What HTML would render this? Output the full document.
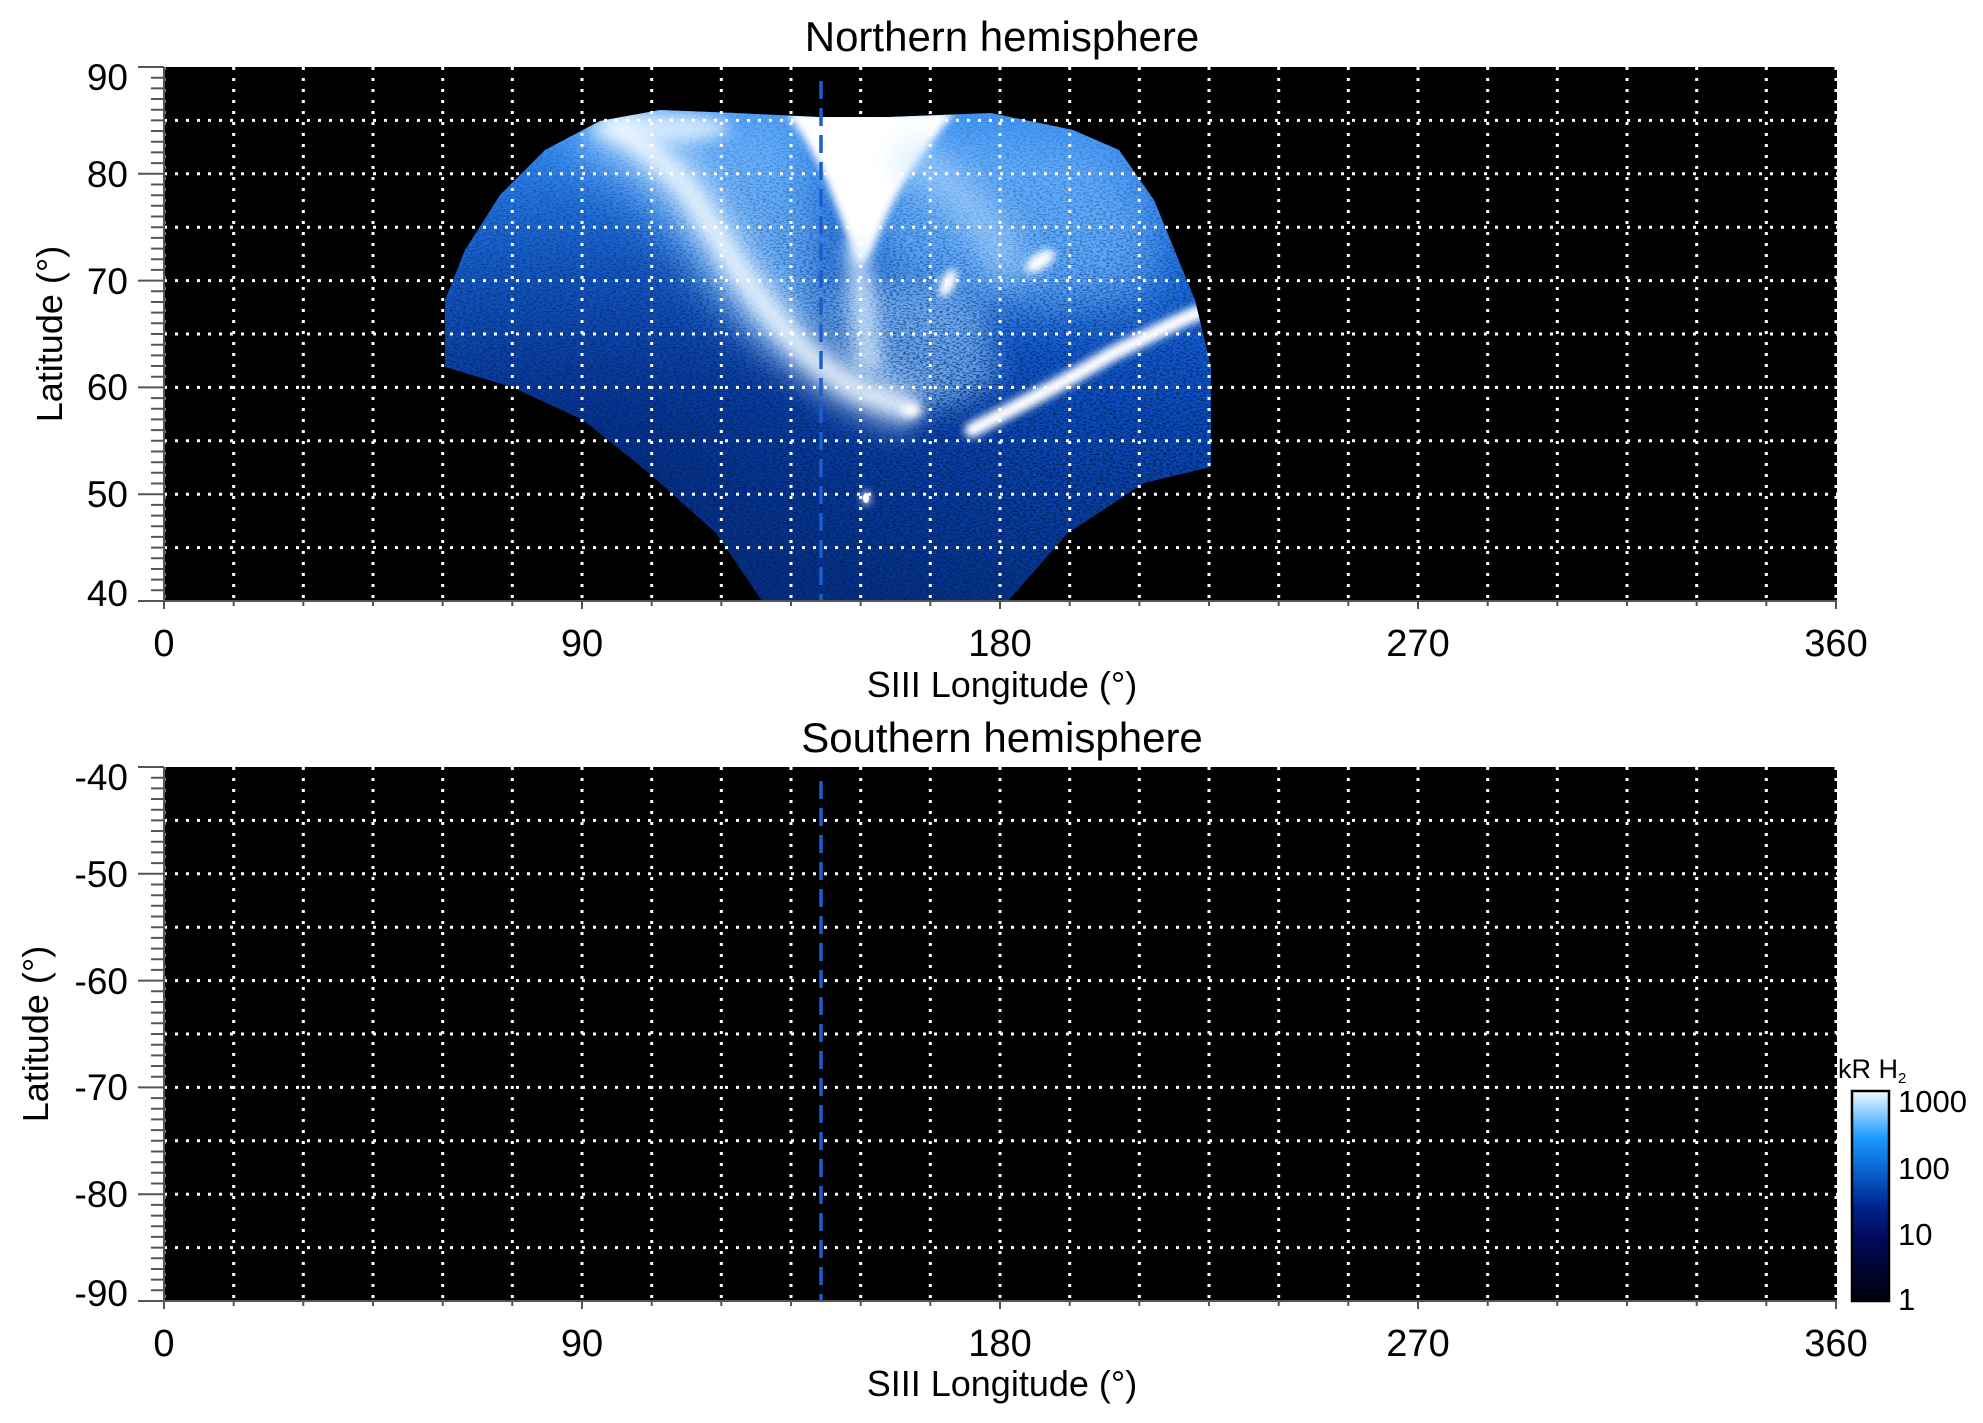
<!DOCTYPE html>
<html><head><meta charset="utf-8"><style>
html,body{margin:0;padding:0;background:#fff;}
svg{display:block;font-family:"Liberation Sans",sans-serif;}
</style></head><body>
<svg width="1983" height="1423" viewBox="0 0 1983 1423" xmlns="http://www.w3.org/2000/svg">
<defs>
<linearGradient id="base" x1="0" y1="0" x2="0" y2="1">
 <stop offset="0" stop-color="#3a92f6"/>
 <stop offset="0.3" stop-color="#1c6ee0"/>
 <stop offset="0.6" stop-color="#0c4cc0"/>
 <stop offset="1" stop-color="#06308a"/>
</linearGradient>
<radialGradient id="leftdark" cx="0.2" cy="0.7" r="0.6">
 <stop offset="0" stop-color="#031c6a" stop-opacity="0.6"/>
 <stop offset="1" stop-color="#031c6a" stop-opacity="0"/>
</radialGradient>
<linearGradient id="cb" x1="0" y1="1" x2="0" y2="0">
 <stop offset="0" stop-color="#000008"/>
 <stop offset="0.3" stop-color="#000a5a"/>
 <stop offset="0.45" stop-color="#00248f"/>
 <stop offset="0.65" stop-color="#0a6ed8"/>
 <stop offset="0.78" stop-color="#1a9cff"/>
 <stop offset="1" stop-color="#f4faff"/>
</linearGradient>
<filter id="noise" x="0" y="0" width="100%" height="100%">
 <feTurbulence type="fractalNoise" baseFrequency="0.3 0.7" numOctaves="2" seed="3"/>
 <feColorMatrix type="matrix" values="0 0 0 0 0  0 0 0 0 0.02  0 0 0 0 0.12  0 0 0 -5 2.7"/>
</filter>
<filter id="b4" filterUnits="userSpaceOnUse" x="400" y="80" width="900" height="560"><feGaussianBlur stdDeviation="4"/></filter>
<filter id="b8" filterUnits="userSpaceOnUse" x="400" y="80" width="900" height="560"><feGaussianBlur stdDeviation="8"/></filter>
<filter id="b14" filterUnits="userSpaceOnUse" x="400" y="80" width="900" height="560"><feGaussianBlur stdDeviation="14"/></filter>
<filter id="b24" filterUnits="userSpaceOnUse" x="400" y="80" width="900" height="560"><feGaussianBlur stdDeviation="24"/></filter>
<linearGradient id="nmask" x1="0" y1="0" x2="0" y2="1">
 <stop offset="0" stop-color="#fff" stop-opacity="0.1"/>
 <stop offset="0.45" stop-color="#fff" stop-opacity="0.55"/>
 <stop offset="0.75" stop-color="#fff" stop-opacity="0.95"/>
 <stop offset="1" stop-color="#fff" stop-opacity="1"/>
</linearGradient>
<mask id="nm"><rect x="430" y="100" width="800" height="510" fill="url(#nmask)"/></mask>
<clipPath id="shape">
 <path d="M445,300 L465,250 L500,195 L545,150 L600,121 L660,110 L736,113 L818,117 L889,117 L991,113 L1073,130 L1119,150 L1154,200 L1195,300 L1211,367 L1211,467 L1144,483 L1068,533 L1008,601 L762,601 L716,533 L649,473 L583,420 L512,387 L445,367 Z"/>
</clipPath>
</defs>

<text x="1002" y="51" font-size="42" text-anchor="middle">Northern hemisphere</text>
<text x="1002" y="752" font-size="42" text-anchor="middle">Southern hemisphere</text>

<!-- Plot 1 -->
<rect x="164" y="67" width="1673" height="534" fill="#000"/>
<g clip-path="url(#shape)">
 <rect x="430" y="100" width="800" height="510" fill="url(#base)"/>
 <rect x="430" y="100" width="800" height="510" fill="url(#leftdark)"/>
 <path d="M880,120 L1110,140 L1160,220 L1150,300 L1050,310 L940,300 L870,260 Z" fill="#6ab4ff" opacity="0.85" filter="url(#b24)"/>
 <path d="M560,115 L800,112 L830,300 L790,360 L720,300 L640,200 L570,150 Z" fill="#72b8ff" opacity="0.85" filter="url(#b24)"/>
 <path d="M820,290 L900,280 L980,300 L1000,380 L950,410 L880,400 L840,360 Z" fill="#8cc6ff" opacity="0.7" filter="url(#b14)"/>
 <rect x="430" y="100" width="800" height="510" filter="url(#noise)" mask="url(#nm)"/>
 <ellipse cx="660" cy="128" rx="70" ry="16" fill="#e6f3ff" opacity="0.85" filter="url(#b8)"/>
 <path d="M600,118 C640,140 670,165 690,190 C715,230 730,260 760,300 C790,340 820,370 860,390 C885,400 900,405 915,412" stroke="#cfe7ff" stroke-width="48" fill="none" opacity="0.6" filter="url(#b14)"/>
 <path d="M610,122 C645,145 672,170 692,195 C715,232 732,262 762,302 C792,342 822,372 862,392 C885,400 900,405 915,412" stroke="#f2f9ff" stroke-width="20" fill="none" opacity="0.85" filter="url(#b8)"/>
 <path d="M785,112 L955,112 C925,150 900,185 885,220 C875,245 866,265 858,265 C850,245 838,210 826,180 C812,150 797,125 785,112 Z" fill="#fff" filter="url(#b4)"/>
 <path d="M855,240 C862,290 866,330 870,370" stroke="#dff0ff" stroke-width="26" fill="none" opacity="0.7" filter="url(#b8)"/>
 <path d="M900,150 C950,180 1000,230 1010,280" stroke="#bfe0ff" stroke-width="40" fill="none" opacity="0.5" filter="url(#b14)"/>
 <path d="M972,430 C1010,410 1060,385 1110,355 C1150,335 1180,320 1200,312" stroke="#fff" stroke-width="15" fill="none" stroke-linecap="round" filter="url(#b4)"/>
 <ellipse cx="1040" cy="261" rx="17" ry="8" transform="rotate(-35 1040 261)" fill="#fff" filter="url(#b4)"/>
 <ellipse cx="948" cy="283" rx="7" ry="15" transform="rotate(25 948 283)" fill="#fff" filter="url(#b4)"/>
 <ellipse cx="911" cy="410" rx="10" ry="7" fill="#fff" filter="url(#b4)"/>
 <ellipse cx="866" cy="498" rx="4" ry="7" fill="#fff" filter="url(#b4)"/>
 <ellipse cx="866" cy="498" rx="3" ry="5" fill="#fff"/>
</g>
<line x1="821" y1="81" x2="821" y2="601" stroke="#1a5fd0" stroke-width="3.5" stroke-dasharray="18 9"/>
<g stroke="#fff" stroke-width="3" stroke-dasharray="3 8" fill="none">
 <path d="M164,67V601M233.7,67V601M303.3,67V601M373,67V601M442.7,67V601M512.3,67V601M582,67V601M651.7,67V601M721.3,67V601M791,67V601M860.7,67V601M930.3,67V601M1000,67V601M1069.7,67V601M1139.3,67V601M1209,67V601M1278.7,67V601M1348.3,67V601M1418,67V601M1487.7,67V601M1557.3,67V601M1627,67V601M1696.7,67V601M1766.3,67V601M1836,67V601"/>
 <path d="M164,120.4H1837M164,173.8H1837M164,227.2H1837M164,280.6H1837M164,334H1837M164,387.4H1837M164,440.8H1837M164,494.2H1837M164,547.6H1837"/>
</g>
<g stroke="#555" stroke-width="2" fill="none">
 <line x1="164" y1="601" x2="1837" y2="601"/>
 <line x1="164" y1="67" x2="164" y2="601"/>
 <path d="M138,67H164M138,173.8H164M138,280.6H164M138,387.4H164M138,494.2H164M138,601H164"/>
 <path d="M151,77.7H164M151,88.4H164M151,99H164M151,109.7H164M151,120.4H164M151,131H164M151,141.7H164M151,152.4H164M151,163.1H164M151,184.5H164M151,195.2H164M151,205.8H164M151,216.5H164M151,227.2H164M151,237.9H164M151,248.6H164M151,259.2H164M151,269.9H164M151,291.3H164M151,302H164M151,312.6H164M151,323.3H164M151,334H164M151,344.7H164M151,355.4H164M151,366H164M151,376.7H164M151,398.1H164M151,408.8H164M151,419.4H164M151,430.1H164M151,440.8H164M151,451.5H164M151,462.2H164M151,472.8H164M151,483.5H164M151,504.9H164M151,515.6H164M151,526.2H164M151,536.9H164M151,547.6H164M151,558.3H164M151,569H164M151,579.6H164M151,590.3H164"/>
 <path d="M164,601v8M582,601v8M1000,601v8M1418,601v8M1836,601v8"/>
 <path d="M233.7,601v5M303.3,601v5M373,601v5M442.7,601v5M512.3,601v5M651.7,601v5M721.3,601v5M791,601v5M860.7,601v5M930.3,601v5M1069.7,601v5M1139.3,601v5M1209,601v5M1278.7,601v5M1348.3,601v5M1487.7,601v5M1557.3,601v5M1627,601v5M1696.7,601v5M1766.3,601v5"/>
</g>
<g font-size="37" text-anchor="end">
 <text x="128" y="90">90</text><text x="128" y="187">80</text><text x="128" y="294">70</text>
 <text x="128" y="400">60</text><text x="128" y="507">50</text><text x="128" y="606">40</text>
</g>
<g font-size="38" text-anchor="middle">
 <text x="164" y="656">0</text><text x="582" y="656">90</text><text x="1000" y="656">180</text>
 <text x="1418" y="656">270</text><text x="1836" y="656">360</text>
</g>
<text x="1002" y="697" font-size="36" text-anchor="middle">SIII Longitude (°)</text>
<text transform="translate(62,334) rotate(-90)" font-size="36" text-anchor="middle">Latitude (°)</text>

<!-- Plot 2 -->
<rect x="164" y="767" width="1673" height="534" fill="#000"/>
<line x1="821" y1="781" x2="821" y2="1301" stroke="#1a5fd0" stroke-width="3.5" stroke-dasharray="18 9"/>
<g stroke="#fff" stroke-width="3" stroke-dasharray="3 8" fill="none" transform="translate(0,700)">
 <path d="M164,67V601M233.7,67V601M303.3,67V601M373,67V601M442.7,67V601M512.3,67V601M582,67V601M651.7,67V601M721.3,67V601M791,67V601M860.7,67V601M930.3,67V601M1000,67V601M1069.7,67V601M1139.3,67V601M1209,67V601M1278.7,67V601M1348.3,67V601M1418,67V601M1487.7,67V601M1557.3,67V601M1627,67V601M1696.7,67V601M1766.3,67V601M1836,67V601"/>
 <path d="M164,120.4H1837M164,173.8H1837M164,227.2H1837M164,280.6H1837M164,334H1837M164,387.4H1837M164,440.8H1837M164,494.2H1837M164,547.6H1837"/>
</g>
<g stroke="#555" stroke-width="2" fill="none" transform="translate(0,700)">
 <line x1="164" y1="601" x2="1837" y2="601"/>
 <line x1="164" y1="67" x2="164" y2="601"/>
 <path d="M138,67H164M138,173.8H164M138,280.6H164M138,387.4H164M138,494.2H164M138,601H164"/>
 <path d="M151,77.7H164M151,88.4H164M151,99H164M151,109.7H164M151,120.4H164M151,131H164M151,141.7H164M151,152.4H164M151,163.1H164M151,184.5H164M151,195.2H164M151,205.8H164M151,216.5H164M151,227.2H164M151,237.9H164M151,248.6H164M151,259.2H164M151,269.9H164M151,291.3H164M151,302H164M151,312.6H164M151,323.3H164M151,334H164M151,344.7H164M151,355.4H164M151,366H164M151,376.7H164M151,398.1H164M151,408.8H164M151,419.4H164M151,430.1H164M151,440.8H164M151,451.5H164M151,462.2H164M151,472.8H164M151,483.5H164M151,504.9H164M151,515.6H164M151,526.2H164M151,536.9H164M151,547.6H164M151,558.3H164M151,569H164M151,579.6H164M151,590.3H164"/>
 <path d="M164,601v8M582,601v8M1000,601v8M1418,601v8M1836,601v8"/>
 <path d="M233.7,601v5M303.3,601v5M373,601v5M442.7,601v5M512.3,601v5M651.7,601v5M721.3,601v5M791,601v5M860.7,601v5M930.3,601v5M1069.7,601v5M1139.3,601v5M1209,601v5M1278.7,601v5M1348.3,601v5M1487.7,601v5M1557.3,601v5M1627,601v5M1696.7,601v5M1766.3,601v5"/>
</g>
<g font-size="37" text-anchor="end">
 <text x="128" y="790">-40</text><text x="128" y="887">-50</text><text x="128" y="994">-60</text>
 <text x="128" y="1100">-70</text><text x="128" y="1207">-80</text><text x="128" y="1306">-90</text>
</g>
<g font-size="38" text-anchor="middle">
 <text x="164" y="1356">0</text><text x="582" y="1356">90</text><text x="1000" y="1356">180</text>
 <text x="1418" y="1356">270</text><text x="1836" y="1356">360</text>
</g>
<text x="1002" y="1396" font-size="36" text-anchor="middle">SIII Longitude (°)</text>
<text transform="translate(48,1034) rotate(-90)" font-size="36" text-anchor="middle">Latitude (°)</text>

<!-- Colorbar -->
<rect x="1852" y="1091" width="37" height="210" fill="url(#cb)" stroke="#000" stroke-width="2.5"/>
<text x="1838" y="1078" font-size="27">kR H<tspan font-size="15" dy="5">2</tspan></text>
<g font-size="31">
 <text x="1898" y="1112">1000</text><text x="1898" y="1179">100</text>
 <text x="1898" y="1245">10</text><text x="1898" y="1310">1</text>
</g>
</svg>
</body></html>
